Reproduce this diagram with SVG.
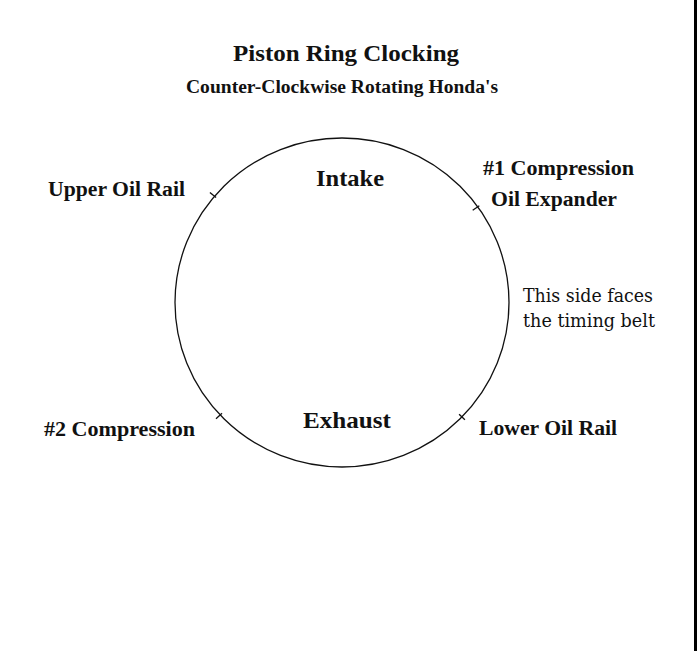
<svg xmlns="http://www.w3.org/2000/svg" width="697" height="651" viewBox="0 0 697 651">
<style>
.b{font-family:"Liberation Serif","Times New Roman",serif;font-weight:bold;fill:#111}
.r{font-family:"DejaVu Serif","Liberation Serif",serif;fill:#111}
.t{stroke:#111;stroke-width:1.3;fill:none}
</style>
<rect width="697" height="651" fill="#fff"/>
<rect x="694" y="0" width="3" height="651" fill="#000"/>
<text class="b" x="233" y="61" font-size="24" textLength="226" lengthAdjust="spacingAndGlyphs">Piston Ring Clocking</text>
<text class="b" x="186" y="93" font-size="18" textLength="312" lengthAdjust="spacingAndGlyphs">Counter-Clockwise Rotating Honda's</text>
<g id="ring">
<ellipse cx="342" cy="302.5" rx="167" ry="164.5" class="t"/>
</g>
<g id="connectors">
<line class="t" x1="209.9" y1="192.4" x2="216.1" y2="197.6"/>
<line class="t" x1="472.7" y1="210.3" x2="479.3" y2="205.7"/>
<line class="t" x1="216" y1="418.7" x2="222" y2="413.3"/>
<line class="t" x1="459.1" y1="414.2" x2="464.9" y2="419.8"/>
</g>
<g id="intake"><text class="b" x="316" y="186" font-size="23" textLength="68" lengthAdjust="spacingAndGlyphs">Intake</text></g>
<g id="exhaust"><text class="b" x="303" y="428" font-size="23" textLength="88" lengthAdjust="spacingAndGlyphs">Exhaust</text></g>
<g id="upper-oil-rail"><text class="b" x="48" y="196" font-size="20" textLength="137" lengthAdjust="spacingAndGlyphs">Upper Oil Rail</text></g>
<g id="compression1"><text class="b" x="483" y="175" font-size="20" textLength="151" lengthAdjust="spacingAndGlyphs">#1 Compression</text></g>
<g id="oil-expander"><text class="b" x="491" y="206" font-size="20" textLength="126" lengthAdjust="spacingAndGlyphs">Oil Expander</text></g>
<g id="compression2"><text class="b" x="44" y="436" font-size="20" textLength="151" lengthAdjust="spacingAndGlyphs">#2 Compression</text></g>
<g id="lower-oil-rail"><text class="b" x="479" y="435" font-size="20" textLength="138" lengthAdjust="spacingAndGlyphs">Lower Oil Rail</text></g>
<g id="timing-note">
<text class="r" x="523" y="302" font-size="18" textLength="130" lengthAdjust="spacingAndGlyphs">This side faces</text>
<text class="r" x="523" y="327" font-size="18" textLength="132" lengthAdjust="spacingAndGlyphs">the timing belt</text>
</g>
</svg>
